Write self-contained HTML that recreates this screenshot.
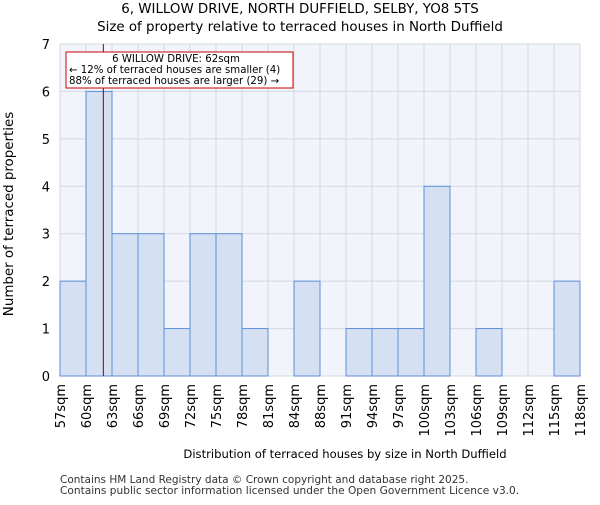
<!DOCTYPE html>
<html><head><meta charset="utf-8"><style>body{margin:0;background:#fff}text{font-family:"DejaVu Sans","Liberation Sans",sans-serif}</style></head>
<body>
<svg id="chart" width="600" height="500" xmlns="http://www.w3.org/2000/svg">
<text x="300" y="13" font-size="13.4" text-anchor="middle">6, WILLOW DRIVE, NORTH DUFFIELD, SELBY, YO8 5TS</text>
<text x="300" y="31" font-size="13.4" text-anchor="middle">Size of property relative to terraced houses in North Duffield</text>
<rect x="60" y="44" width="520" height="332" fill="#f1f4fb"/>
<g id="grid"></g><g id="bars"></g><g id="axes"></g>
<text x="345" y="458" font-size="11.6" text-anchor="middle">Distribution of terraced houses by size in North Duffield</text>
<text transform="translate(13,214) rotate(-90)" font-size="13.4" text-anchor="middle">Number of terraced properties</text>
<text x="60" y="483" font-size="10.5" fill="#333">Contains HM Land Registry data © Crown copyright and database right 2025.</text>
<text x="60" y="494" font-size="10.6" fill="#333">Contains public sector information licensed under the Open Government Licence v3.0.</text>
</svg>
<script>
const edges=[57,60,63,66,69,72,75,78,81,84,88,91,94,97,100,103,106,109,112,115,118];
const counts=[2,6,3,3,1,3,3,1,0,2,0,1,1,1,4,0,1,0,0,2];
const yTicks=[0,1,2,3,4,5,6,7];
const subjectSize=62;
const NS="http://www.w3.org/2000/svg";
const X0=60,W=520,Y0=376,H=332,ymax=7,bw=W/counts.length;
const xi=i=>X0+i*bw;
const y=v=>Y0-v/ymax*H;
function xv(v){for(let i=0;i<edges.length-1;i++){if(v<=edges[i+1])return xi(i)+(v-edges[i])/(edges[i+1]-edges[i])*bw;}return X0+W;}
function mk(t,a,p){const e=document.createElementNS(NS,t);for(const k in a)e.setAttribute(k,a[k]);p.appendChild(e);return e;}
const grid=document.getElementById('grid'),bars=document.getElementById('bars'),axes=document.getElementById('axes');
yTicks.forEach(t=>{const l=mk('line',{x1:X0,x2:X0+W,y1:y(t),y2:y(t),stroke:'#d4d8e2'},grid);


const tx=mk('text',{x:X0-10,y:y(t)+5,'font-size':13,'text-anchor':'end'},axes);tx.textContent=t;

});
edges.forEach((e,i)=>{const l=mk('line',{x1:xi(i),x2:xi(i),y1:44,y2:Y0,stroke:'#d4d8e2'},grid);


const tx=mk('text',{transform:`translate(${xi(i)+5},${Y0+8}) rotate(-90)`,'font-size':13,'text-anchor':'end'},axes);tx.textContent=e+'sqm';

});
counts.forEach((c,i)=>{if(!c)return;const r=mk('rect',{x:xi(i),y:y(c),width:bw,height:Y0-y(c),fill:'#d6e0f3',stroke:'#5b8fd8','stroke-width':1},bars);

});
const ml=mk('line',{x1:xv(subjectSize),x2:xv(subjectSize),y1:44,y2:Y0,stroke:'#800','stroke-width':1},bars);


const g=mk('g',{},bars);


mk('rect',{x:66,y:52,width:227,height:36,fill:'#fff',stroke:'#c00'},g);
[['6 WILLOW DRIVE: 62sqm',62],['← 12% of terraced houses are smaller (4)',73],['88% of terraced houses are larger (29) →',84]].forEach(([s,yy],k)=>{
const t=mk('text',{x:k==0?176:69,y:yy,'font-size':10.2,'text-anchor':k==0?'middle':'start'},g);t.textContent=s;});
</script>
</body></html>
